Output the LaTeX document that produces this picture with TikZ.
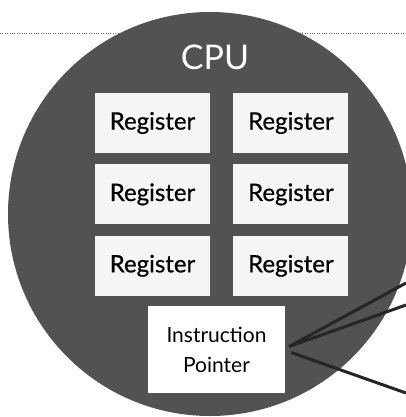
\documentclass[tikz,border=0pt]{standalone}
\usepackage{fontspec}
\setmainfont{Lato}
\usetikzlibrary{positioning}

\begin{document}
\begin{tikzpicture}[
                x=1pt, y=-1pt,
                node distance = 11pt and 23pt,
                reg/.style = {fill=gray!8, minimum width=115pt, minimum height=60pt, inner sep=0pt, font=\fontsize{24}{28}\selectfont\addfontfeature{FakeBold=0.6}},
                ptr/.style = {fill=white, minimum width=137pt, minimum height=87pt, inner sep=0pt, align=center, font=\fontsize{21}{30}\selectfont},
                wire/.style = {line width=3pt, black!85}
              ]
              \clip (0,0) rectangle (406,417);
              % Background
              \fill[white] (0,0) rectangle (406,417);
              \draw[gray!80!black, dotted] (0,33) -- (406,33);
              \fill[black!68] (210,214) circle (202);
              \node[white, font=\fontsize{34}{36}\selectfont] (cpu) at (215,57) {CPU};
              % Registers
              \node[reg] (r11) at (152.5,123) {Register};
              \node[reg, right=of r11] (r12) {Register};
              \node[reg, below=of r11] (r21) {Register};
              \node[reg, right=of r21] (r22) {Register};
              \node[reg, below=of r21] (r31) {Register};
              \node[reg, right=of r31] (r32) {Register};
              % Instruction pointer
              \node[ptr] (ip) at (216.5,349.5) {Instruction\\Pointer};
              % Wires
              \coordinate (w1) at (406,283);
              \coordinate (w2) at (406,305);
              \coordinate (w3) at (406,393);
              \draw[wire] ([shift={(4,-3)}]ip.east) -- (w1);
              \draw[wire] ([shift={(4,-3)}]ip.east) -- (w2);
              \draw[wire] ([shift={(6,3)}]ip.east) -- (w3);
            \end{tikzpicture}
\end{document}
